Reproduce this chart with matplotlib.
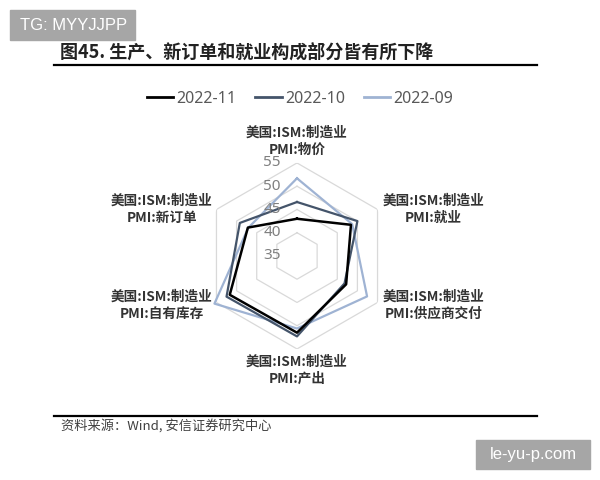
import numpy as np
import matplotlib
matplotlib.use("Agg")
import matplotlib.pyplot as plt
from matplotlib.lines import Line2D

plt.rcParams['font.family'] = ['Noto Sans CJK SC', 'DejaVu Sans']

# data (US ISM manufacturing PMI sub-indices)
categories = ["美国:ISM:制造业\nPMI:物价", "美国:ISM:制造业\nPMI:就业", "美国:ISM:制造业\nPMI:供应商交付",
              "美国:ISM:制造业\nPMI:产出", "美国:ISM:制造业\nPMI:自有库存", "美国:ISM:制造业\nPMI:新订单"]
months = ["2022-11", "2022-10", "2022-09"]
v_nov = [43.0, 48.4, 47.2, 51.5, 51.7, 47.2]
v_oct = [46.6, 50.0, 46.8, 52.3, 52.5, 49.2]
v_sep = [51.7, 48.7, 52.4, 50.6, 55.5, 47.1]
r_ticks = [35, 40, 45, 50, 55]

colors = ["#000000", "#44546A", "#9FB3D3"]

fig = plt.figure(figsize=(6, 4.8), dpi=100)
ax = fig.add_axes([0.34, 0.273, 0.31, 0.3875], projection='polar')
ax.set_theta_offset(np.pi / 2)
ax.set_theta_direction(-1)
ax.set_ylim(35, 55)
ax.grid(False)
ax.spines['polar'].set_visible(False)
ax.set_xticks([])
ax.set_yticks([])

n = len(categories)
ang = np.linspace(0, 2 * np.pi, n, endpoint=False)
ang_c = np.append(ang, ang[0])

# hexagonal grid rings
for r in r_ticks[1:]:
    ax.plot(ang_c, [r] * (n + 1), color="#D9D9D9", lw=0.9, zorder=1)

series = [(v_sep, colors[2], 1.6), (v_oct, colors[1], 1.6), (v_nov, colors[0], 1.8)]
for vals, c, w in series:
    ax.plot(ang_c, vals + [vals[0]], color=c, lw=w, zorder=3, clip_on=False)

# radial tick labels
for r in r_ticks:
    ax.annotate(str(r), xy=(0, r), xytext=(-25, 0), textcoords='offset pixels',
                ha='center', va='center', fontsize=11, color='#7F7F7F',
                family=['Noto Sans', 'DejaVu Sans'], annotation_clip=False)

# category labels
offs = [(0, 6, 'center', 'bottom'), (5, 0, 'left', 'center'), (5, -3, 'left', 'center'),
        (0, -6, 'center', 'top'), (-4, -3, 'right', 'center'), (-4, 0, 'right', 'center')]
for a, lab, (dx, dy, ha, va) in zip(ang, categories, offs):
    ax.annotate(lab, xy=(a, 55), xytext=(dx, dy), textcoords='offset pixels',
                ha=ha, va=va, multialignment='center', fontsize=9.8,
                fontweight='bold', color='#333333', linespacing=1.3,
                annotation_clip=False)

# legend
handles = [Line2D([], [], color=c, lw=2) for c in colors]
fig.legend(handles, months, loc='center', bbox_to_anchor=(0.5, 0.794), ncol=3,
           frameon=False, handlelength=1.65, handletextpad=0.2, columnspacing=1.2,
           prop={'family': ['Noto Sans', 'DejaVu Sans'], 'size': 11.5},
           labelcolor='#595959')

# title and rules
fig.text(60 / 600, 1 - 52 / 480, "图45. 生产、新订单和就业构成部分皆有所下降",
         fontsize=13, fontweight='bold', color='#222222', va='center', ha='left')
fig.add_artist(Line2D([54 / 600, 537 / 600], [1 - 65 / 480] * 2, color='black', lw=1.6))
fig.add_artist(Line2D([54 / 600, 537 / 600], [1 - 416 / 480] * 2, color='black', lw=1.6))
fig.text(61 / 600, 1 - 426 / 480, "资料来源：Wind, 安信证券研究中心", fontsize=9.5,
         color='#404040', va='center', ha='left', style='italic')

# watermarks
fig.patches.append(plt.Rectangle((10 / 600, 1 - 40 / 480), 125 / 600, 30 / 480,
                                 transform=fig.transFigure, color='#A6A6A6', zorder=0))
fig.text(20 / 600, 1 - 25 / 480, "TG: MYYJJPP", fontsize=12, color='white',
         va='center', ha='left', family=['Liberation Sans', 'DejaVu Sans'])
fig.patches.append(plt.Rectangle((476 / 600, 1 - 469 / 480), 114 / 600, 29 / 480,
                                 transform=fig.transFigure, color='#A6A6A6', zorder=0))
fig.text(533 / 600, 1 - 455 / 480, "le-yu-p.com", fontsize=12, color='white',
         va='center', ha='center', family=['Liberation Sans', 'DejaVu Sans'])

fig.savefig("out.png", dpi=100)
